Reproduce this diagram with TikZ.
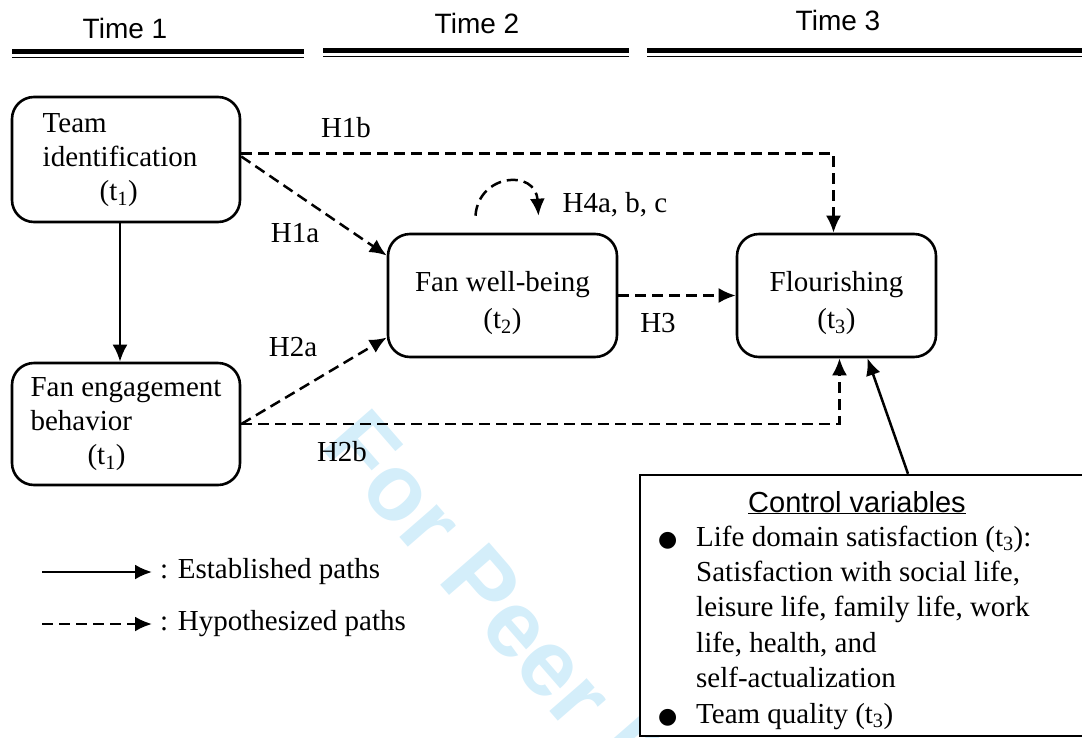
\documentclass[tikz,border=0pt]{standalone}
\usepackage{fontspec}
\setmainfont{Liberation Serif}
\setsansfont{Liberation Sans}
\newfontfamily\symfont{DejaVu Sans}
\usepackage{xcolor}
\usepackage{tikz}
\usetikzlibrary{arrows.meta,positioning,calc}
\definecolor{wmblue}{RGB}{212,238,250}
\tikzstyle{stage} = [rectangle, draw, rounded corners=22pt, line width=2.6pt, inner sep=0pt, align=center, font=\fontsize{29}{34}\selectfont]
\tikzstyle{est} = [line width=2.5pt, -{Latex[length=17pt,width=15pt]}]
\tikzstyle{hyp} = [line width=2.5pt, dash pattern=on 11pt off 6pt, -{Latex[length=17pt,width=15pt]}]
\tikzstyle{plabel} = [inner sep=0pt, font=\fontsize{29}{34}\selectfont]
\tikzstyle{timelabel} = [inner sep=0pt, font=\sffamily\fontsize{28}{34}\selectfont]
\tikzstyle{ctrlbox} = [rectangle, draw, fill=white, line width=2.4pt, minimum width=450pt, minimum height=261pt]
\tikzstyle{watermark} = [inner sep=0pt, anchor=west, rotate=-49, text=wmblue, font=\sffamily\bfseries\fontsize{94}{94}\selectfont]
\newcommand{\ctrlbullet}{{\symfont\fontsize{22}{22}\selectfont ●}}

\begin{document}
\begin{tikzpicture}[x=1pt,y=-1pt]
    \useasboundingbox (0,0) rectangle (1082,737);
    \clip (0,0) rectangle (1082,737);
    \node[watermark] (wm) at (345,424) {For Peer Review};
    % time headings
    \node[timelabel] (time1) at (125,28) {Time 1};
    \node[timelabel] (time2) at (477,23) {Time 2};
    \node[timelabel] (time3) at (838,20) {Time 3};
    \draw[line width=5pt] (12,51) -- (304,51);
    \draw[line width=1.8pt] (12,57.5) -- (304,57.5);
    \draw[line width=5pt] (323,50) -- (629,50);
    \draw[line width=1.8pt] (323,56.5) -- (629,56.5);
    \draw[line width=5pt] (647,50) -- (1090,50);
    \draw[line width=1.8pt] (647,56.5) -- (1090,56.5);
    % constructs
    \node[stage, minimum width=228pt, minimum height=125pt] (ti) at (126,159.5)
        {\begin{tabular}{@{}l@{\hspace{12pt}}}Team\\identification\\\hspace*{57pt}(t\textsubscript{1})\end{tabular}};
    \node[stage, minimum width=228pt, minimum height=122pt] (feb) at (126,424)
        {\begin{tabular}{@{}l@{}}Fan engagement\\behavior\\\hspace*{57pt}(t\textsubscript{1})\end{tabular}};
    \node[stage, minimum width=229pt, minimum height=123pt] (fwb) at (502.5,295.5) {\rule{0pt}{36pt}Fan well-being\\[3pt](t\textsubscript{2})};
    \node[stage, minimum width=199pt, minimum height=123pt] (fl) at (836.5,295.5) {\rule{0pt}{36pt}Flourishing\\[3pt](t\textsubscript{3})};
    % paths
    \draw[est] ([xshift=-6]ti.south) -- ([xshift=-6]feb.north);
    \draw[hyp] ([yshift=6]ti.east) -| ([xshift=-3]fl.north);
    \draw[hyp] ([yshift=3]ti.east) -- ([yshift=40]fwb.west);
    \draw[hyp] (feb.east) -- ([yshift=-42]fwb.west);
    \draw[hyp] (feb.east) -| ([xshift=3]fl.south);
    \draw[hyp] (fwb.east) -- (fl.west);
    \coordinate (lpa) at ([xshift=-27,yshift=17]fwb.north);
    \coordinate (lpb) at ([xshift=36,yshift=17]fwb.north);
    \draw[hyp] (lpa) .. controls +(3,-42) and +(-3,-47) .. (lpb);
    \node[plabel] (h1b) at (346,128) {H1b};
    \node[plabel] (h1a) at (295,233) {H1a};
    \node[plabel] (h2a) at (293,347) {H2a};
    \node[plabel] (h2b) at (342,452) {H2b};
    \node[plabel] (h3) at (658,323) {H3};
    \node[plabel] (h4) at (615,205) {H4a, b, c};
    % control variables
    \node[ctrlbox] (ctrl) at (865,605.5) {};
    \draw[est] ([xshift=43]ctrl.north) -- ([xshift=31]fl.south);
    \node[inner sep=0pt, anchor=base, font=\sffamily\fontsize{29}{34}\selectfont] (chead) at (857,512) {\underline{Control variables}};
    \node[inner sep=0pt, anchor=base west, font=\fontsize{29}{35.4}\selectfont] (citems) at (658,546)
        {\begin{tabular}[t]{@{}p{38pt}@{}l@{}}
        \ctrlbullet & Life domain satisfaction (t\textsubscript{3}):\\
         & Satisfaction with social life,\\
         & leisure life, family life, work\\
         & life, health, and\\
         & self-actualization\\
        \ctrlbullet & Team quality (t\textsubscript{3})
        \end{tabular}};
    % legend
    \coordinate (la) at (42,572);
    \coordinate (lb) at (152,572);
    \draw[est] (la) -- (lb);
    \node[plabel, right=8pt of lb] (lest) {: Established paths};
    \coordinate (lc) at (42,624);
    \coordinate (ld) at (152,624);
    \draw[hyp] (lc) -- (ld);
    \node[plabel, right=8pt of ld] (lhyp) {: Hypothesized paths};
\end{tikzpicture}
\end{document}
